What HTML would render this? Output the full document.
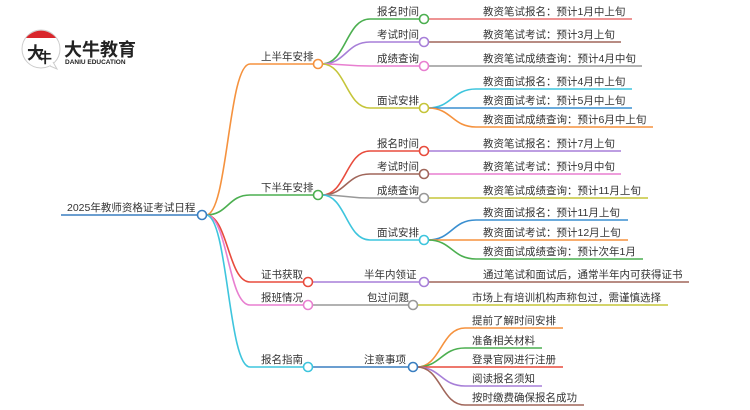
<!DOCTYPE html>
<html><head><meta charset="utf-8"><style>
html,body{margin:0;padding:0;background:#fff;}
svg{display:block}
text{font-family:"Liberation Sans","Noto Sans CJK SC",sans-serif;font-size:10.5px;fill:#333;}
</style></head><body>
<svg width="750" height="410" viewBox="0 0 750 410" xmlns="http://www.w3.org/2000/svg">
<g fill="none" stroke-width="1.6">
<path d="M61 215 H198" stroke="#3a7fc1"/>
<path d="M206 215 C228 215,228 64,250 64 H314" stroke="#f5923e"/>
<path d="M206 215 C228 215,228 195,250 195 H314" stroke="#4caf50"/>
<path d="M206 215 C228 215,228 282,250 282 H304" stroke="#e84c3d"/>
<path d="M206 215 C228 215,228 305,250 305 H304" stroke="#e87fd0"/>
<path d="M206 215 C228 215,228 367,250 367 H304" stroke="#3ec5dd"/>
<path d="M322 64 C346 64,346 19,370 19 H420" stroke="#4caf50"/>
<path d="M322 64 C346 64,346 42,370 42 H420" stroke="#a77fd8"/>
<path d="M322 64 C346 64,346 66,370 66 H420" stroke="#e87fd0"/>
<path d="M322 64 C346 64,346 108,370 108 H420" stroke="#c5c53a"/>
<path d="M322 195 C346 195,346 151,370 151 H420" stroke="#e84c3d"/>
<path d="M322 195 C346 195,346 174,370 174 H420" stroke="#a0665a"/>
<path d="M322 195 C346 195,346 198,370 198 H420" stroke="#999"/>
<path d="M322 195 C346 195,346 240,370 240 H420" stroke="#3ec5dd"/>
<path d="M312 282 H420" stroke="#a77fd8"/>
<path d="M312 305 H409" stroke="#999"/>
<path d="M312 367 H409" stroke="#3a7fc1"/>
<path d="M428 19 H632" stroke="#e87070"/>
<path d="M428 42 H621" stroke="#a0665a"/>
<path d="M428 66 H642" stroke="#999"/>
<path d="M428 108 C452 108,452 89,476 89 H632" stroke="#3ec5dd"/>
<path d="M428 108 H632" stroke="#3a8fd0"/>
<path d="M428 108 C452 108,452 127,476 127 H653" stroke="#f5923e"/>
<path d="M428 151 H621" stroke="#a77fd8"/>
<path d="M428 174 H621" stroke="#e87fd0"/>
<path d="M428 198 H648" stroke="#c5c53a"/>
<path d="M428 240 C452 240,452 220,476 220 H628" stroke="#3a8fd0"/>
<path d="M428 240 H628" stroke="#f5923e"/>
<path d="M428 240 C452 240,452 259,476 259 H643" stroke="#4caf50"/>
<path d="M428 282 H689" stroke="#a0665a"/>
<path d="M417 305 H668" stroke="#c5c53a"/>
<path d="M417 367 C441 367,441 328,465 328 H563" stroke="#f5923e"/>
<path d="M417 367 C441 367,441 348,465 348 H542" stroke="#4caf50"/>
<path d="M417 367 H563" stroke="#e84c3d"/>
<path d="M417 367 C441 367,441 386,465 386 H542" stroke="#a77fd8"/>
<path d="M417 367 C441 367,441 405,465 405 H584" stroke="#a0665a"/>
</g>
<g fill="#fff" stroke-width="1.6">
<circle cx="202" cy="215" r="4.5" stroke="#3a7fc1"/>
<circle cx="318" cy="64" r="4.5" stroke="#f5923e"/>
<circle cx="318" cy="195" r="4.5" stroke="#4caf50"/>
<circle cx="308" cy="282" r="4.5" stroke="#e84c3d"/>
<circle cx="308" cy="305" r="4.5" stroke="#e87fd0"/>
<circle cx="308" cy="367" r="4.5" stroke="#3ec5dd"/>
<circle cx="424" cy="19" r="4.5" stroke="#4caf50"/>
<circle cx="424" cy="42" r="4.5" stroke="#a77fd8"/>
<circle cx="424" cy="66" r="4.5" stroke="#e87fd0"/>
<circle cx="424" cy="108" r="4.5" stroke="#c5c53a"/>
<circle cx="424" cy="151" r="4.5" stroke="#e84c3d"/>
<circle cx="424" cy="174" r="4.5" stroke="#a0665a"/>
<circle cx="424" cy="198" r="4.5" stroke="#999"/>
<circle cx="424" cy="240" r="4.5" stroke="#3ec5dd"/>
<circle cx="424" cy="282" r="4.5" stroke="#a77fd8"/>
<circle cx="413" cy="305" r="4.5" stroke="#999"/>
<circle cx="413" cy="367" r="4.5" stroke="#3a7fc1"/>
</g>
<g>
<text x="67" y="211">2025年教师资格证考试日程</text>
<text x="261" y="60">上半年安排</text>
<text x="261" y="191">下半年安排</text>
<text x="261" y="278">证书获取</text>
<text x="261" y="301">报班情况</text>
<text x="261" y="363">报名指南</text>
<text x="377" y="15">报名时间</text>
<text x="377" y="38">考试时间</text>
<text x="377" y="62">成绩查询</text>
<text x="377" y="104">面试安排</text>
<text x="377" y="147">报名时间</text>
<text x="377" y="170">考试时间</text>
<text x="377" y="194">成绩查询</text>
<text x="377" y="236">面试安排</text>
<text x="364" y="278">半年内领证</text>
<text x="367" y="301">包过问题</text>
<text x="364" y="363">注意事项</text>
<text x="483" y="15">教资笔试报名：预计1月中上旬</text>
<text x="483" y="38">教资笔试考试：预计3月上旬</text>
<text x="483" y="62">教资笔试成绩查询：预计4月中旬</text>
<text x="483" y="85">教资面试报名：预计4月中上旬</text>
<text x="483" y="104">教资面试考试：预计5月中上旬</text>
<text x="483" y="123">教资面试成绩查询：预计6月中上旬</text>
<text x="483" y="147">教资笔试报名：预计7月上旬</text>
<text x="483" y="170">教资笔试考试：预计9月中旬</text>
<text x="483" y="194">教资笔试成绩查询：预计11月上旬</text>
<text x="483" y="216">教资面试报名：预计11月上旬</text>
<text x="483" y="236">教资面试考试：预计12月上旬</text>
<text x="483" y="255">教资面试成绩查询：预计次年1月</text>
<text x="483" y="278">通过笔试和面试后，通常半年内可获得证书</text>
<text x="472" y="301">市场上有培训机构声称包过，需谨慎选择</text>
<text x="472" y="324">提前了解时间安排</text>
<text x="472" y="344">准备相关材料</text>
<text x="472" y="363">登录官网进行注册</text>
<text x="472" y="382">阅读报名须知</text>
<text x="472" y="401">按时缴费确保报名成功</text>
</g>
<circle cx="41" cy="49" r="19" fill="#fff" stroke="#ccc" stroke-width="1"/>
<path d="M26 38 A19 19 0 0 1 56 38 Z" fill="#d9262c"/>
<path d="M50 66 L57 69 L53 62" fill="#fff" stroke="#ccc" stroke-width="1"/>
<text x="27" y="59" style="font-size:17px;fill:#222;font-weight:bold">大</text>
<text x="38" y="63" style="font-size:14px;fill:#222;font-weight:bold">牛</text>
<text x="64" y="56" style="font-size:18px;fill:#222;font-weight:bold">大牛教育</text>
<text x="65" y="64" style="font-size:6.5px;fill:#222;font-weight:bold">DANIU EDUCATION</text>
</svg>
</body></html>
